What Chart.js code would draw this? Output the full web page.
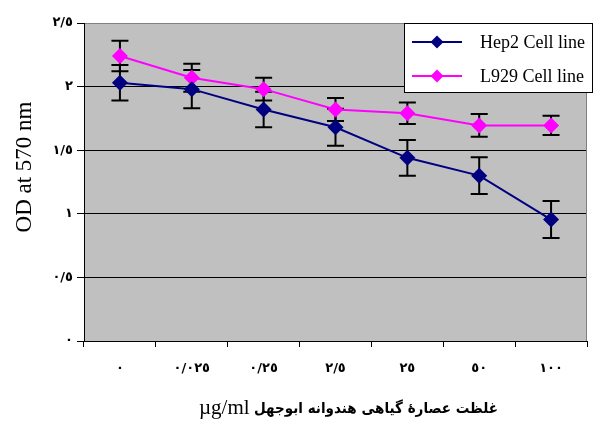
<!DOCTYPE html>
<html>
<head>
<meta charset="utf-8">
<script src="https://cdn.jsdelivr.net/npm/chart.js@4.4.1/dist/chart.umd.min.js"></script>
<style>
html,body{margin:0;padding:0;background:#fff;}
canvas{display:block;}
</style>
</head>
<body>
<canvas id="c" width="595" height="421"></canvas>
<script>
// ---- data ----
const categories = ['٠', '٠/٠٢٥', '٠/٢٥', '٢/٥', '٢٥', '٥٠', '١٠٠'];
const hep2 = [2.03, 1.98, 1.82, 1.68, 1.44, 1.30, 0.955];
const hep2Err = [0.14, 0.15, 0.14, 0.145, 0.14, 0.145, 0.145];
const l929 = [2.24, 2.07, 1.98, 1.82, 1.79, 1.695, 1.695];
const l929Err = [0.12, 0.11, 0.09, 0.09, 0.085, 0.09, 0.075];
const yTickLabels = ['٠', '٠/٥', '١', '١/٥', '٢', '٢/٥'];
const seriesNames = ['Hep2 Cell line', 'L929 Cell line'];
const yTitle = 'OD at 570 nm';
const xTitleUnit = 'µg/ml';
const xTitleText = 'غلظت عصارهٔ گیاهی هندوانه ابوجهل';

const SERIF = "'Liberation Serif', 'Times New Roman', serif";
const ARABIC = "'DejaVu Sans', sans-serif";

const bgPlugin = {
  id: 'bg',
  beforeDraw(chart) {
    const {ctx, chartArea: a} = chart;
    ctx.save();
    ctx.fillStyle = '#fff';
    ctx.fillRect(0, 0, chart.width, chart.height);
    ctx.fillStyle = '#C0C0C0';
    ctx.fillRect(a.left, a.top, a.right - a.left, a.bottom - a.top);
    ctx.restore();
  },
  afterDraw(chart) {
    const {ctx, chartArea: a} = chart;
    ctx.save();
    // right border
    ctx.strokeStyle = '#808080';
    ctx.lineWidth = 1;
    ctx.beginPath();
    ctx.moveTo(a.right - 0.5, a.top);
    ctx.lineTo(a.right - 0.5, a.bottom);
    ctx.stroke();

    // legend
    const lx = 404, ly = 23, lw = 189, lh = 70;
    ctx.fillStyle = '#fff';
    ctx.fillRect(lx, ly, lw, lh);
    ctx.strokeStyle = '#000';
    ctx.lineWidth = 1;
    ctx.strokeRect(lx + 0.5, ly + 0.5, lw - 1, lh - 1);
    const rows = [42, 76];
    chart.data.datasets.forEach((ds, i) => {
      const y = rows[i];
      ctx.strokeStyle = ds.borderColor;
      ctx.lineWidth = 2;
      ctx.beginPath();
      ctx.moveTo(412, y);
      ctx.lineTo(462, y);
      ctx.stroke();
      ctx.fillStyle = ds.backgroundColor;
      ctx.beginPath();
      const r = 6.5;
      ctx.moveTo(437, y - r);
      ctx.lineTo(437 + r, y);
      ctx.lineTo(437, y + r);
      ctx.lineTo(437 - r, y);
      ctx.closePath();
      ctx.fill();
      ctx.fillStyle = '#000';
      ctx.font = '18px ' + SERIF;
      ctx.textBaseline = 'middle';
      ctx.textAlign = 'left';
      ctx.fillText(ds.label, 480, y + 1);
    });

    // y title
    ctx.save();
    ctx.translate(25, 167);
    ctx.rotate(-Math.PI / 2);
    ctx.fillStyle = '#000';
    ctx.font = '23px ' + SERIF;
    ctx.textAlign = 'center';
    ctx.textBaseline = 'middle';
    ctx.fillText(yTitle, 0, 0);
    ctx.restore();

    // x title (two fonts)
    ctx.fillStyle = '#000';
    ctx.textBaseline = 'alphabetic';
    ctx.textAlign = 'left';
    ctx.font = '21px ' + SERIF;
    ctx.fillText(xTitleUnit, 199, 414);
    ctx.font = 'bold 15px ' + ARABIC;
    ctx.direction = 'rtl';
    ctx.textAlign = 'right';
    const w = ctx.measureText(xTitleText).width;
    const target = 244;
    const sx = Math.min(1, target / w);
    ctx.save();
    ctx.translate(498, 413);
    ctx.scale(sx, 1);
    ctx.fillText(xTitleText, 0, 0);
    ctx.restore();
    ctx.restore();
  }
};

const errPlugin = {
  id: 'err',
  beforeDatasetsDraw(chart) {
    const {ctx} = chart;
    const ys = chart.scales.y;
    const errs = [hep2Err, l929Err];
    ctx.save();
    ctx.strokeStyle = '#000';
    ctx.lineWidth = 2;
    chart.data.datasets.forEach((ds, i) => {
      const meta = chart.getDatasetMeta(i);
      meta.data.forEach((pt, j) => {
        const v = ds.data[j], e = errs[i][j];
        const x = pt.x;
        const y1 = ys.getPixelForValue(v + e);
        const y2 = ys.getPixelForValue(v - e);
        ctx.beginPath();
        ctx.moveTo(x, y1); ctx.lineTo(x, y2);
        ctx.moveTo(x - 8.5, y1); ctx.lineTo(x + 8.5, y1);
        ctx.moveTo(x - 8.5, y2); ctx.lineTo(x + 8.5, y2);
        ctx.stroke();
      });
    });
    ctx.restore();
  }
};

new Chart(document.getElementById('c'), {
  type: 'line',
  data: {
    labels: categories,
    datasets: [
      {
        label: seriesNames[0],
        data: hep2,
        borderColor: '#000080',
        backgroundColor: '#000080',
        borderWidth: 2,
        pointStyle: 'rectRot',
        pointRadius: 8,
        pointBorderWidth: 0,
        tension: 0
      },
      {
        label: seriesNames[1],
        data: l929,
        borderColor: '#FF00FF',
        backgroundColor: '#FF00FF',
        borderWidth: 2,
        pointStyle: 'rectRot',
        pointRadius: 8,
        pointBorderWidth: 0,
        tension: 0
      }
    ]
  },
  options: {
    responsive: false,
    animation: false,
    devicePixelRatio: 1,
    layout: {padding: {left: 0, top: 23, right: 5, bottom: 0}},
    plugins: {legend: {display: false}, tooltip: {enabled: false}},
    scales: {
      x: {
        type: 'category',
        offset: true,
        afterFit(s) { s.height = 80; },
        grid: {
          offset: true,
          drawOnChartArea: false,
          drawTicks: true,
          tickLength: 6,
          color: '#000',
          lineWidth: 1
        },
        border: {color: '#000', width: 1},
        ticks: {
          color: '#000',
          font: {family: ARABIC, size: 13, weight: 'bold'},
          padding: 14,
          maxRotation: 0
        }
      },
      y: {
        min: 0,
        max: 2.5,
        afterFit(s) { s.width = 84; },
        grid: {
          color: (c) => (c.tick && c.tick.value === 2.5 ? '#808080' : '#000'),
          tickColor: '#000',
          tickLength: 7,
          lineWidth: 1
        },
        border: {color: '#000', width: 1},
        ticks: {
          stepSize: 0.5,
          color: '#000',
          font: {family: ARABIC, size: 13, weight: 'bold'},
          padding: 4,
          callback: (v) => yTickLabels[Math.round(v / 0.5)]
        }
      }
    }
  },
  plugins: [bgPlugin, errPlugin]
});
</script>
</body>
</html>
